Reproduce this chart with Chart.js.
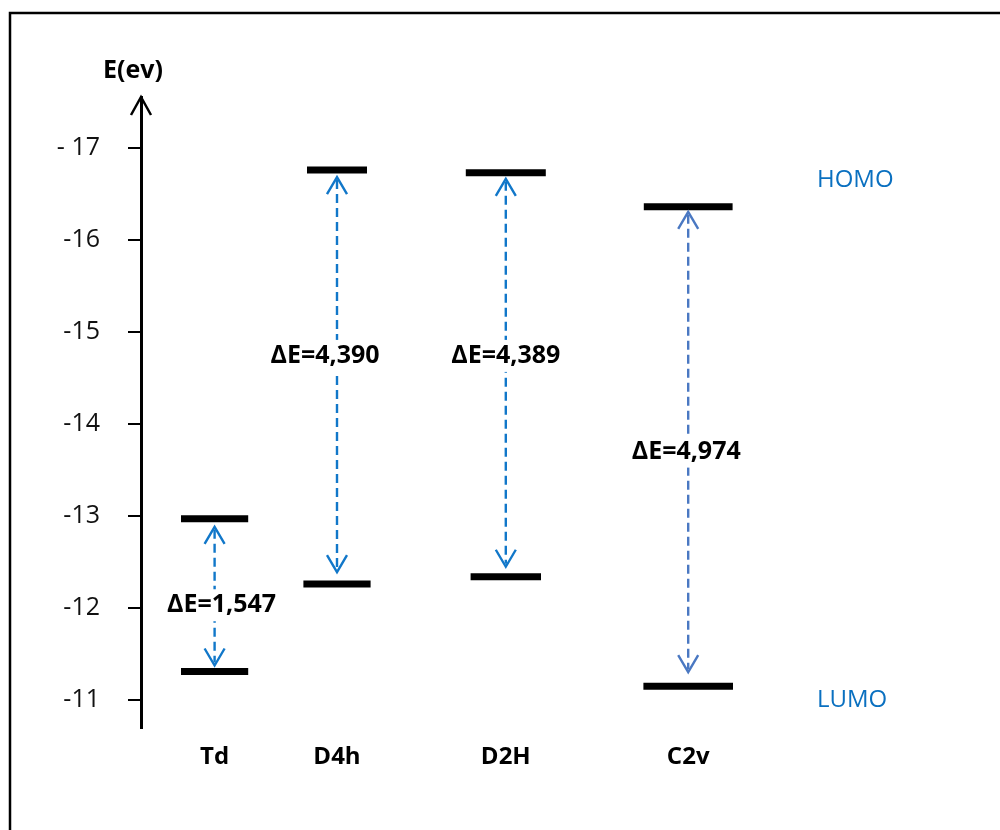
<!DOCTYPE html>
<html><head><meta charset="utf-8">
<script src="https://cdn.jsdelivr.net/npm/chart.js@4.4.1/dist/chart.umd.min.js"></script>
<style>html,body{margin:0;padding:0;background:#fff}canvas{display:block}</style>
</head><body>
<canvas id="c" width="1000" height="830"></canvas>
<script>
// ---- data ----
const categories = ['Td', 'D4h', 'D2H', 'C2v'];
const categoryPos = [0.92, 2.45, 4.56, 6.84];
const homoLevels = [-12.97, -16.76, -16.73, -16.36];
const lumoLevels = [-11.31, -12.26, -12.34, -11.15];
const gapLabels = ['ΔE=1,547', 'ΔE=4,390', 'ΔE=4,389', 'ΔE=4,974'];
const gapLabelE = [-12.03, -14.74, -14.74, -13.70];
const yTickValues = [-17, -16, -15, -14, -13, -12, -11];
const yTickLabels = ['- 17', '-16', '-15', '-14', '-13', '-12', '-11'];
const axisTitle = 'E(ev)';
const levelNames = ['HOMO', 'LUMO'];

// ---- styles ----
const homoWidth = [0.84, 0.75, 1.0, 1.11];
const lumoWidth = [0.84, 0.84, 0.88, 1.12];
const arrowColors = ['#1177C9', '#1177C9', '#1177C9', '#4A78C2'];
const gapTop = [8, 7, 6, 5];
const gapBot = [6, 12, 10, 14];
const labelDx = [7, -12, 0, -2];
const blue = '#0A70C0';
const FONT = "'Open Sans', 'DejaVu Sans', sans-serif";

Chart.defaults.font.family = FONT;
Chart.defaults.color = '#000';

const datasets = [];
categories.forEach((c, i) => {
  [[homoLevels, homoWidth], [lumoLevels, lumoWidth]].forEach(([arr, w], k) => {
    datasets.push({
      label: c + ' ' + levelNames[k],
      data: [{x: categoryPos[i] - w[i] / 2, y: arr[i]}, {x: categoryPos[i] + w[i] / 2, y: arr[i]}],
      borderColor: '#000', backgroundColor: '#000', borderWidth: 7,
      pointRadius: 0, borderCapStyle: 'butt', fill: false, tension: 0
    });
  });
});

const overlay = {
  id: 'overlay',
  afterDraw(chart) {
    const {ctx, scales: {x, y}, chartArea} = chart;
    ctx.save();
    // frame
    ctx.strokeStyle = '#000'; ctx.lineWidth = 2.5;
    ctx.strokeRect(10, 13, 1100, 1000);
    // axis arrow head
    const ax = chartArea.left, top = chartArea.top;
    ctx.lineWidth = 2.5;
    ctx.beginPath(); ctx.moveTo(ax - 10, top + 18); ctx.lineTo(ax, top); ctx.lineTo(ax + 10, top + 18); ctx.stroke();
    // axis title
    ctx.font = 'bold 25px ' + FONT; ctx.textAlign = 'center'; ctx.textBaseline = 'middle'; ctx.fillStyle = '#000';
    ctx.fillText(axisTitle, ax - 8, top - 26);
    // arrows and gap labels
    categories.forEach((c, i) => {
      const px = x.getPixelForValue(categoryPos[i]);
      const yT = y.getPixelForValue(homoLevels[i]) + gapTop[i];
      const yB = y.getPixelForValue(lumoLevels[i]) - gapBot[i];
      ctx.strokeStyle = arrowColors[i]; ctx.lineWidth = 2.4;
      ctx.setLineDash([9, 5]);
      ctx.beginPath(); ctx.moveTo(px, yT + 3); ctx.lineTo(px, yB - 3); ctx.stroke();
      ctx.setLineDash([]);
      ctx.lineWidth = 2.4;
      ctx.beginPath(); ctx.moveTo(px - 10, yT + 17); ctx.lineTo(px, yT); ctx.lineTo(px + 10, yT + 17); ctx.stroke();
      ctx.beginPath(); ctx.moveTo(px - 10, yB - 17); ctx.lineTo(px, yB); ctx.lineTo(px + 10, yB - 17); ctx.stroke();
      const ly = y.getPixelForValue(gapLabelE[i]);
      const lx = px + labelDx[i];
      ctx.font = 'bold 25px ' + FONT;
      const w = ctx.measureText(gapLabels[i]).width;
      ctx.fillStyle = '#fff';
      ctx.fillRect(lx - w / 2 - 2, ly - 16, w + 4, 32);
      ctx.fillStyle = '#000';
      ctx.fillText(gapLabels[i], lx, ly);
    });
    // HOMO / LUMO labels
    ctx.font = '24px ' + FONT; ctx.fillStyle = blue; ctx.textAlign = 'left';
    ctx.fillText(levelNames[0], 817, y.getPixelForValue(-16.65));
    ctx.fillText(levelNames[1], 817, y.getPixelForValue(-11.0));
    ctx.restore();
  }
};

new Chart(document.getElementById('c'), {
  type: 'line',
  data: {datasets},
  options: {
    responsive: false, animation: false,
    layout: {padding: {left: 10, top: 97, right: 59, bottom: 32}},
    plugins: {legend: {display: false}, tooltip: {enabled: false}},
    scales: {
      x: {
        type: 'linear', min: 0, max: 10,
        afterBuildTicks: s => { s.ticks = categoryPos.map(v => ({value: v})); },
        afterFit: s => { s.height = 70; },
        grid: {display: false, drawTicks: false},
        border: {display: false},
        ticks: {autoSkip: false, maxRotation: 0, padding: 15,
          font: {size: 24, weight: 'bold'}, color: '#000',
          callback: (v, i) => categories[i]}
      },
      y: {
        type: 'linear', reverse: true, min: -17.554, max: -10.696,
        afterBuildTicks: s => { s.ticks = yTickValues.map(v => ({value: v})); },
        afterFit: s => { s.width = 131; },
        grid: {display: true, drawOnChartArea: false, drawTicks: true, tickLength: 13, color: '#000', lineWidth: 2},
        border: {display: true, color: '#000', width: 3},
        ticks: {padding: 28, font: {size: 25}, color: '#111',
          callback: (v, i) => yTickLabels[i]}
      }
    }
  },
  plugins: [overlay]
});
</script>
</body></html>
